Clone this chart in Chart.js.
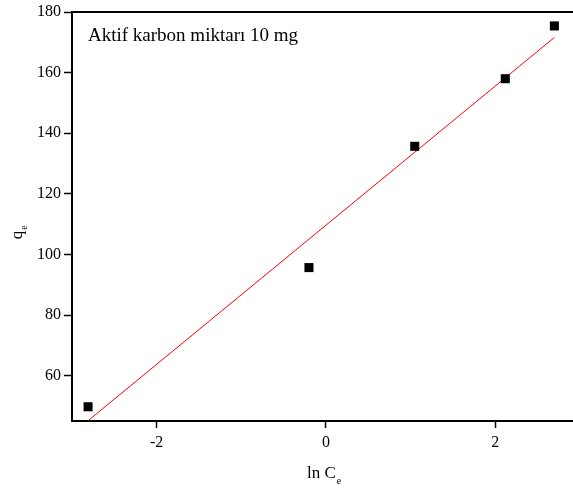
<!DOCTYPE html>
<html>
<head>
<meta charset="utf-8">
<script src="https://cdn.jsdelivr.net/npm/chart.js@4"></script>
<style>
  html, body { margin: 0; padding: 0; background: #fff; }
  #wrap { width: 573px; height: 492px; position: relative; }
</style>
</head>
<body>
<div id="wrap"><canvas id="chart"></canvas></div>
<script>
// measured points (ln Ce, qe)
const lnCe = [-2.81, -0.20, 1.05, 2.12, 2.70];
const qe = [49.8, 95.7, 135.7, 158.0, 175.4];

// fitted line endpoints
const fitX = [-2.81, 2.70];
const fitY = [45.2, 171.6];

const yTicks = [60, 80, 100, 120, 140, 160, 180];
const xTicks = [-2, 0, 2];

const noteText = 'Aktif karbon miktarı 10 mg';
const FONT = '"Liberation Serif", "Times New Roman", serif';

// titles with subscripts drawn on the canvas
const titlePlugin = {
    id: 'titles',
    afterDraw(chart) {
        const { ctx, chartArea } = chart;
        ctx.save();
        ctx.fillStyle = '#000';
        ctx.textBaseline = 'alphabetic';

        // x title: ln C_e
        ctx.font = '17px ' + FONT;
        const main = 'ln C';
        const w = ctx.measureText(main).width;
        ctx.fillText(main, 307, 478);
        ctx.font = '10px ' + FONT;
        ctx.fillText('e', 307 + w + 1, 484);

        // y title: q_e rotated
        ctx.translate(22, 232);
        ctx.rotate(-Math.PI / 2);
        ctx.font = '17px ' + FONT;
        const wq = ctx.measureText('q').width;
        ctx.fillText('q', -wq / 2 - 3, 0);
        ctx.font = '10px ' + FONT;
        ctx.fillText('e', wq / 2 - 2, 5);
        ctx.restore();

        // note in the top-left corner
        ctx.save();
        ctx.font = '19px ' + FONT;
        ctx.fillStyle = '#000';
        ctx.fillText(noteText, chartArea.left + 16, 41);
        ctx.restore();
    }
};

new Chart(document.getElementById('chart'), {
    type: 'scatter',
    data: {
        datasets: [
            {
                label: 'qe',
                data: lnCe.map((x, i) => ({ x: x, y: qe[i] })),
                pointStyle: 'rect',
                pointRadius: 6.4,
                backgroundColor: '#000',
                borderColor: '#000',
                borderWidth: 0,
                order: 1
            },
            {
                label: 'fit',
                type: 'line',
                data: fitX.map((x, i) => ({ x: x, y: fitY[i] })),
                borderColor: '#ff0000',
                borderWidth: 1,
                pointRadius: 0,
                fill: false,
                order: 2
            }
        ]
    },
    options: {
        responsive: true,
        maintainAspectRatio: false,
        animation: false,
        clip: false,
        layout: { autoPadding: false, padding: { top: 12, right: 0, left: 0, bottom: 0 } },
        plugins: {
            legend: { display: false },
            tooltip: { enabled: false }
        },
        scales: {
            x: {
                type: 'linear',
                position: 'bottom',
                min: -3,
                max: 2.92,
                afterBuildTicks: (s) => { s.ticks = xTicks.map(v => ({ value: v })); },
                afterFit: (s) => { s.height = 71; s.paddingRight = 0; s.paddingLeft = 0; },
                grid: { drawOnChartArea: false, tickLength: 7, color: '#000', tickWidth: 1.5 },
                border: { color: '#000', width: 2 },
                ticks: { color: '#000', font: { family: FONT, size: 16 }, padding: 5 }
            },
            x2: {
                type: 'linear',
                position: 'top',
                min: -3,
                max: 2.92,
                afterFit: (s) => { s.height = 0; s.paddingRight = 0; s.paddingLeft = 0; },
                grid: { display: false },
                border: { color: '#000', width: 2 },
                ticks: { display: false }
            },
            y: {
                type: 'linear',
                min: 45.1,
                max: 180,
                afterBuildTicks: (s) => { s.ticks = yTicks.map(v => ({ value: v })); },
                afterFit: (s) => { s.width = 72; s.paddingTop = 0; s.paddingBottom = 0; },
                grid: { drawOnChartArea: false, tickLength: 8, color: '#000', tickWidth: 1.5 },
                border: { color: '#000', width: 2 },
                ticks: { color: '#000', font: { family: FONT, size: 16 }, padding: 3 }
            }
        }
    },
    plugins: [titlePlugin]
});
</script>
</body>
</html>
